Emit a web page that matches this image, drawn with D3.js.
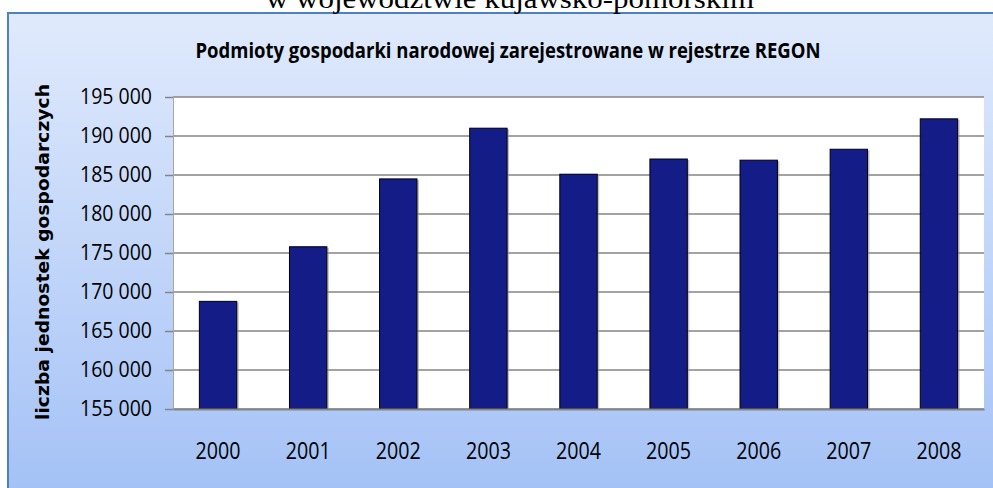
<!DOCTYPE html>
<html>
<head>
<meta charset="utf-8">
<script src="https://cdn.jsdelivr.net/npm/d3@7"></script>
<style>
    html, body { margin: 0; padding: 0; background: #fff; }
    #chart { width: 993px; height: 488px; }
</style>
</head>
<body>
<div id="chart"></div>
<script>
//Datos
const LATA = ['2000', '2001', '2002', '2003', '2004', '2005', '2006', '2007', '2008'];
const PODMIOTY = [168800, 175800, 184500, 191000, 185100, 187050, 186900, 188300, 192200];
const Y_TICKS = [155000, 160000, 165000, 170000, 175000, 180000, 185000, 190000, 195000];

const TYTUL = 'Podmioty gospodarki narodowej zarejestrowane w rejestrze REGON';
const NADTYTUL = 'w województwie kujawsko-pomorskim';
const OS_Y = 'liczba jednostek gospodarczych';

//Colores fijos
const COLOR_BAR = '#141C87',
    COLOR_GRID = '#858585',
    COLOR_FRAME = '#4F81BD';

let totalWidth = 993, totalHeight = 488;
let margin = {top: 97, right: 9, bottom: 79, left: 173},
    width = totalWidth - margin.left - margin.right,
    height = totalHeight - margin.top - margin.bottom;

let root = d3.select('#chart')
    .append('svg')
        .attr('width', totalWidth)
        .attr('height', totalHeight);

//Fondo degradado del marco
let grad = root.append('defs').append('linearGradient')
    .attr('id', 'bg')
    .attr('x1', 0).attr('y1', 0).attr('x2', 0).attr('y2', 1);
grad.append('stop').attr('offset', '0%').attr('stop-color', '#E0EAFC');
grad.append('stop').attr('offset', '100%').attr('stop-color', '#A3C1F6');

root.append('rect')
    .attr('x', 8).attr('y', 13)
    .attr('width', totalWidth + 20).attr('height', totalHeight)
    .attr('fill', 'url(#bg)')
    .attr('stroke', COLOR_FRAME)
    .attr('stroke-width', 2);

//Texto cortado arriba
root.append('text')
    .attr('x', 510).attr('y', 8)
    .attr('text-anchor', 'middle')
    .attr('font-family', 'Liberation Serif, serif')
    .attr('font-size', 28)
    .attr('textLength', 488)
    .attr('lengthAdjust', 'spacingAndGlyphs')
    .text(NADTYTUL);

//Título
root.append('text')
    .attr('x', 508).attr('y', 58)
    .attr('text-anchor', 'middle')
    .attr('font-family', 'Open Sans, sans-serif')
    .attr('font-weight', 'bold')
    .attr('font-size', 22)
    .attr('textLength', 625)
    .attr('lengthAdjust', 'spacingAndGlyphs')
    .text(TYTUL);

//Título eje Y
root.append('text')
    .attr('transform', 'translate(49,252) rotate(-90)')
    .attr('text-anchor', 'middle')
    .attr('font-family', 'DejaVu Sans, sans-serif')
    .attr('font-weight', 'bold')
    .attr('font-size', 17)
    .attr('textLength', 336)
    .attr('lengthAdjust', 'spacingAndGlyphs')
    .text(OS_Y);

let svg = root.append('g')
    .attr('transform', 'translate(' + margin.left + ',' + margin.top + ')');

svg.append('rect')
    .attr('width', width)
    .attr('height', height)
    .attr('fill', '#fff');

let x = d3.scaleBand()
    .domain(LATA)
    .range([0, width])
    .paddingInner(0.585)
    .paddingOuter(0.2925);

let y = d3.scaleLinear()
    .domain([155000, 195000])
    .range([height, 0]);

let pl = d3.formatLocale({decimal: ',', thousands: ' ', grouping: [3], currency: ['', ' zł']});

//Líneas de rejilla
svg.append('g')
    .selectAll('line')
    .data(Y_TICKS)
    .enter()
    .append('line')
    .attr('x1', 0).attr('x2', width)
    .attr('y1', function(d) { return y(d); })
    .attr('y2', function(d) { return y(d); })
    .attr('stroke', COLOR_GRID)
    .attr('stroke-width', 1.5);

//Eje Y
let yAxis = svg.append('g')
    .call(d3.axisLeft(y).tickValues(Y_TICKS).tickSize(8).tickPadding(13).tickFormat(pl.format(',d')));
yAxis.select('.domain').attr('stroke', '#A6A6A6').attr('stroke-width', 1);
yAxis.selectAll('.tick line').attr('stroke', COLOR_GRID).attr('stroke-width', 1.5);
yAxis.selectAll('.tick text')
    .attr('font-family', 'Open Sans, sans-serif')
    .attr('font-size', 21)
    .attr('fill', '#000')
    .attr('textLength', 72)
    .attr('lengthAdjust', 'spacingAndGlyphs');

//Sombras y barras
let data = LATA.map(function(d, i) { return {rok: d, value: PODMIOTY[i]}; });

svg.append('g')
    .selectAll('rect')
    .data(data)
    .enter()
    .append('rect')
    .attr('x', function(d) { return x(d.rok) + 2; })
    .attr('y', function(d) { return y(d.value) + 1; })
    .attr('width', x.bandwidth())
    .attr('height', function(d) { return height - y(d.value) - 1; })
    .attr('fill', '#9a9a9a')
    .attr('opacity', 0.6);

svg.append('g')
    .selectAll('rect')
    .data(data)
    .enter()
    .append('rect')
    .attr('x', function(d) { return x(d.rok); })
    .attr('y', function(d) { return y(d.value); })
    .attr('width', x.bandwidth())
    .attr('height', function(d) { return height - y(d.value); })
    .attr('fill', COLOR_BAR)
    .attr('stroke', '#000')
    .attr('stroke-width', 1);

//Eje X
let xAxis = svg.append('g')
    .attr('transform', 'translate(0,' + height + ')')
    .call(d3.axisBottom(x).tickSize(0).tickPadding(33));
xAxis.select('.domain').attr('stroke', COLOR_GRID).attr('stroke-width', 2);
xAxis.selectAll('.tick text')
    .attr('font-family', 'Open Sans, sans-serif')
    .attr('font-size', 24)
    .attr('fill', '#000')
    .attr('textLength', 45)
    .attr('lengthAdjust', 'spacingAndGlyphs');
</script>
</body>
</html>
